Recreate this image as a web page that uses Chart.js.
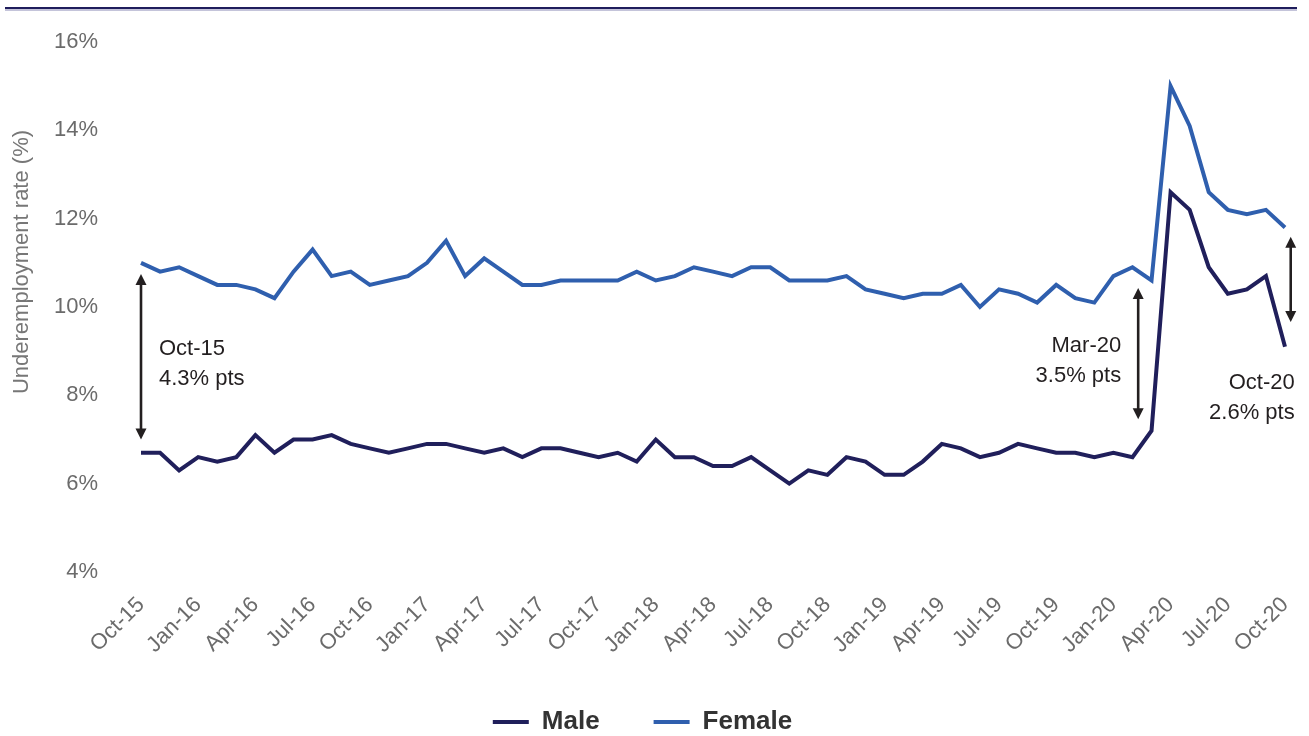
<!DOCTYPE html>
<html>
<head>
<meta charset="utf-8">
<title>Underemployment rate by sex</title>
<script src="https://cdn.jsdelivr.net/npm/chart.js@4.4.1/dist/chart.umd.min.js"></script>
<style>
  html, body { margin: 0; padding: 0; background: #fff; }
  canvas { display: block; }
</style>
</head>
<body>
<canvas id="chart" width="1309" height="736"></canvas>
<script>
// --- data ---
const months = [
  'Oct-15', 'Nov-15', 'Dec-15', 'Jan-16', 'Feb-16', 'Mar-16', 'Apr-16', 'May-16', 'Jun-16', 'Jul-16', 'Aug-16', 'Sep-16',
  'Oct-16', 'Nov-16', 'Dec-16', 'Jan-17', 'Feb-17', 'Mar-17', 'Apr-17', 'May-17', 'Jun-17', 'Jul-17', 'Aug-17', 'Sep-17',
  'Oct-17', 'Nov-17', 'Dec-17', 'Jan-18', 'Feb-18', 'Mar-18', 'Apr-18', 'May-18', 'Jun-18', 'Jul-18', 'Aug-18', 'Sep-18',
  'Oct-18', 'Nov-18', 'Dec-18', 'Jan-19', 'Feb-19', 'Mar-19', 'Apr-19', 'May-19', 'Jun-19', 'Jul-19', 'Aug-19', 'Sep-19',
  'Oct-19', 'Nov-19', 'Dec-19', 'Jan-20', 'Feb-20', 'Mar-20', 'Apr-20', 'May-20', 'Jun-20', 'Jul-20', 'Aug-20', 'Sep-20',
  'Oct-20'
];
const male = [
  6.7, 6.7, 6.3, 6.6, 6.5, 6.6, 7.1, 6.7, 7.0, 7.0, 7.1, 6.9,
  6.8, 6.7, 6.8, 6.9, 6.9, 6.8, 6.7, 6.8, 6.6, 6.8, 6.8, 6.7,
  6.6, 6.7, 6.5, 7.0, 6.6, 6.6, 6.4, 6.4, 6.6, 6.3, 6.0, 6.3,
  6.2, 6.6, 6.5, 6.2, 6.2, 6.5, 6.9, 6.8, 6.6, 6.7, 6.9, 6.8,
  6.7, 6.7, 6.6, 6.7, 6.6, 7.2, 12.6, 12.2, 10.9, 10.3, 10.4, 10.7,
  9.1
];
const female = [
  11.0, 10.8, 10.9, 10.7, 10.5, 10.5, 10.4, 10.2, 10.8, 11.3, 10.7, 10.8,
  10.5, 10.6, 10.7, 11.0, 11.5, 10.7, 11.1, 10.8, 10.5, 10.5, 10.6, 10.6,
  10.6, 10.6, 10.8, 10.6, 10.7, 10.9, 10.8, 10.7, 10.9, 10.9, 10.6, 10.6,
  10.6, 10.7, 10.4, 10.3, 10.2, 10.3, 10.3, 10.5, 10.0, 10.4, 10.3, 10.1,
  10.5, 10.2, 10.1, 10.7, 10.9, 10.6, 15.0, 14.1, 12.6, 12.2, 12.1, 12.2,
  11.8
];
const yMin = 4;
const yMax = 16;
const yStep = 2;
const yTitle = 'Underemployment rate (%)';

// gap arrows: x is a (fractional) month index, top/bottom/textAt are rates
const gapNotes = [
  { at: 0, top: 10.75, bottom: 7.0, textAt: 9.05, lines: ['Oct-15', '4.3% pts'], side: 'right' },
  { at: 52.3, top: 10.43, bottom: 7.46, textAt: 9.12, lines: ['Mar-20', '3.5% pts'], side: 'left' },
  { at: 60.3, top: 11.59, bottom: 9.66, textAt: 8.28, lines: ['Oct-20', '2.6% pts'], side: 'under' }
];

// --- styles ---
const maleColor = '#201f5b';
const femaleColor = '#2f5fae';
const tickColor = '#6b6b6b';
const fontFamily = '"Liberation Sans", Arial, sans-serif';

// --- plugins ---
const topRule = {
  id: 'topRule',
  beforeDraw(chart) {
    const ctx = chart.ctx;
    ctx.save();
    ctx.fillStyle = '#c4c4da';
    ctx.fillRect(5, 9, 1292, 2);
    ctx.fillStyle = '#1f1d5c';
    ctx.fillRect(5, 7, 1292, 2);
    ctx.restore();
  }
};

const sideTitle = {
  id: 'sideTitle',
  afterDraw(chart) {
    const ctx = chart.ctx;
    ctx.save();
    ctx.translate(22, 262);
    ctx.rotate(-Math.PI / 2);
    ctx.fillStyle = '#777';
    ctx.font = '22px ' + fontFamily;
    ctx.textAlign = 'center';
    ctx.textBaseline = 'middle';
    ctx.fillText(yTitle, 0, 0);
    ctx.restore();
  }
};

const gapArrows = {
  id: 'gapArrows',
  afterDatasetsDraw(chart) {
    const { ctx, scales: { x, y } } = chart;
    ctx.save();
    ctx.strokeStyle = '#231f20';
    ctx.fillStyle = '#231f20';
    ctx.lineWidth = 2.6;
    gapNotes.forEach(n => {
      const px = x.getPixelForValue(n.at);
      const y1 = y.getPixelForValue(n.top);
      const y2 = y.getPixelForValue(n.bottom);
      const head = 11;
      ctx.beginPath();
      ctx.moveTo(px, y1 + head - 1);
      ctx.lineTo(px, y2 - head + 1);
      ctx.stroke();
      ctx.beginPath();
      ctx.moveTo(px, y1);
      ctx.lineTo(px - 5.5, y1 + head);
      ctx.lineTo(px + 5.5, y1 + head);
      ctx.closePath();
      ctx.fill();
      ctx.beginPath();
      ctx.moveTo(px, y2);
      ctx.lineTo(px - 5.5, y2 - head);
      ctx.lineTo(px + 5.5, y2 - head);
      ctx.closePath();
      ctx.fill();

      ctx.font = '22px ' + fontFamily;
      ctx.textBaseline = 'middle';
      let tx;
      if (n.side === 'right') { ctx.textAlign = 'left'; tx = px + 18; }
      else if (n.side === 'left') { ctx.textAlign = 'right'; tx = px - 17; }
      else { ctx.textAlign = 'right'; tx = px + 4; }
      const ty = y.getPixelForValue(n.textAt);
      n.lines.forEach((t, i) => ctx.fillText(t, tx, ty + i * 30));
    });
    ctx.restore();
  }
};

// --- chart ---
const ctx = document.getElementById('chart').getContext('2d');
new Chart(ctx, {
  type: 'line',
  data: {
    labels: months,
    datasets: [
      {
        label: 'Male',
        data: male,
        borderColor: maleColor,
        backgroundColor: maleColor,
        borderWidth: 4,
        pointRadius: 0,
        tension: 0
      },
      {
        label: 'Female',
        data: female,
        borderColor: femaleColor,
        backgroundColor: femaleColor,
        borderWidth: 4,
        pointRadius: 0,
        tension: 0
      }
    ]
  },
  options: {
    responsive: false,
    animation: false,
    devicePixelRatio: 1,
    layout: { padding: { top: 42, right: 24, bottom: -9, left: 0 } },
    scales: {
      x: {
        grid: { display: false, drawTicks: false },
        border: { display: false },
        afterFit(scale) {
          scale.height = 83;
          scale.paddingLeft = 0;
          scale.paddingRight = 0;
        },
        ticks: {
          autoSkip: false,
          minRotation: 45,
          maxRotation: 45,
          padding: 20,
          color: tickColor,
          font: { family: fontFamily, size: 22 },
          callback(value, index) {
            return index % 3 === 0 ? months[index] : null;
          }
        }
      },
      y: {
        min: yMin,
        max: yMax,
        grid: { display: false, drawTicks: false },
        border: { display: false },
        afterFit(scale) {
          scale.width = 141;
          scale.paddingTop = 0;
          scale.paddingBottom = 0;
        },
        ticks: {
          stepSize: yStep,
          padding: 43,
          color: tickColor,
          font: { family: fontFamily, size: 22 },
          callback: v => v + '%'
        }
      }
    },
    plugins: {
      legend: {
        position: 'bottom',
        labels: {
          usePointStyle: true,
          pointStyle: 'line',
          pointStyleWidth: 36,
          padding: 54,
          color: '#333',
          font: { family: fontFamily, size: 26, weight: 'bold' }
        }
      },
      tooltip: { enabled: false }
    }
  },
  plugins: [topRule, sideTitle, gapArrows]
});
</script>
</body>
</html>
